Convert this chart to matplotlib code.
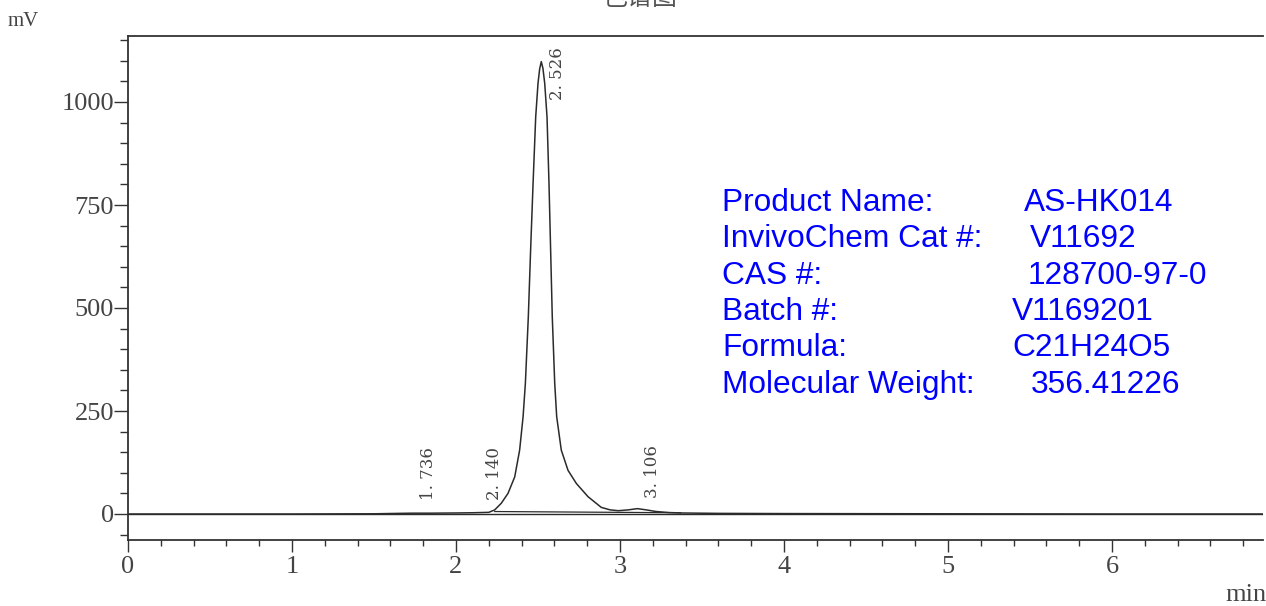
import numpy as np
import matplotlib
matplotlib.use("Agg")
import matplotlib.pyplot as plt
from matplotlib.ticker import MultipleLocator

# ---- data ----
time_min = [0.0, 1.0, 1.5, 1.65, 1.736, 1.85, 2.0, 2.1, 2.2, 2.236, 2.276,
            2.317, 2.358, 2.388, 2.409, 2.423, 2.441, 2.455, 2.470, 2.486,
            2.500, 2.510, 2.520, 2.530, 2.541, 2.555, 2.567, 2.577, 2.587,
            2.602, 2.614, 2.642, 2.683, 2.734, 2.805, 2.886, 2.94, 2.99,
            3.05, 3.106, 3.16, 3.22, 3.30, 3.37, 3.6, 4.0, 5.0, 6.0, 6.95]
signal_mv = [0.0, 0.0, 0.5, 1.5, 2.0, 2.0, 2.5, 3.0, 4.0, 10.0, 26.0,
             50.0, 90.0, 155.0, 236.0, 317.0, 479.0, 641.0, 803.0, 964.0,
             1045.0, 1080.0, 1098.0, 1082.0, 1045.0, 964.0, 803.0, 641.0, 479.0,
             317.0, 236.0, 155.0, 106.0, 74.0, 42.0, 16.0, 10.0, 8.0,
             10.0, 13.0, 10.0, 6.0, 3.5, 2.5, 1.5, 1.0, 0.5, 0.0, 0.0]

# integration baseline under the main peak
baseline_t = [2.236, 3.37]
baseline_mv = [6.0, 3.0]

peak_rt = [1.736, 2.140, 2.526, 3.106]
peak_text = ["1. 736", "2. 140", "2. 526", "3. 106"]

info_labels = ["Product Name:", "InvivoChem Cat #:", "CAS #:", "Batch #:",
               "Formula:", "Molecular Weight:"]
info_values = ["AS-HK014", "V11692", "128700-97-0", "V1169201",
               "C21H24O5", "356.41226"]

x_major = [0, 1, 2, 3, 4, 5, 6]
y_major = [0, 250, 500, 750, 1000]

# ---- layout / style (pixels of the 1266x606 canvas) ----
W, H = 1266, 606
label_y_mv = [35, 35, 1005, 38]
label_dx = 0.095
info_baselines = [211, 247, 284, 320, 356, 393]
info_label_x = 722
info_value_x = [1024, 1030, 1028, 1012, 1012, 1031]

fig = plt.figure(figsize=(W / 100, H / 100), dpi=100)
ax = fig.add_axes([128 / W, 1 - 540 / H, (1263 - 128) / W, (540 - 36) / H])

line_col = "#2b2b2b"
ax.plot(time_min, signal_mv, color=line_col, lw=1.1, zorder=3)
ax.plot(baseline_t, baseline_mv, color=line_col, lw=0.9, zorder=2)
ax.axhline(0, color=line_col, lw=1.0, zorder=1)

ax.set_xlim(0, (1263 - 128) / 164)
ax.set_ylim((514 - 540) / 0.412, (514 - 36) / 0.412)

ax.set_xticks(x_major)
ax.set_xticklabels([str(v) for v in x_major])
ax.set_yticks(y_major)
ax.set_yticklabels([str(v) for v in y_major])
ax.xaxis.set_minor_locator(MultipleLocator(0.2))
ax.yaxis.set_minor_locator(MultipleLocator(50))

for lab in ax.get_xticklabels() + ax.get_yticklabels():
    lab.set_fontfamily("Liberation Serif")
    lab.set_fontsize(19)
    lab.set_color("#444444")

ax.tick_params(axis="y", which="major", direction="out", length=10, width=1.0,
               pad=0, colors="#333333", labelcolor="#444444")
ax.tick_params(axis="y", which="minor", direction="out", length=5.8, width=1.0,
               colors="#333333")
ax.tick_params(axis="x", which="major", direction="out", length=8.5, width=1.0,
               pad=3, colors="#333333", labelcolor="#444444")
ax.tick_params(axis="x", which="minor", direction="out", length=4.5, width=1.0,
               colors="#333333")

ax.spines["right"].set_visible(False)
for s in ["left", "bottom", "top"]:
    ax.spines[s].set_color("#333333")
    ax.spines[s].set_linewidth(1.3)

for rt, txt, ly in zip(peak_rt, peak_text, label_y_mv):
    ax.text(rt + label_dx, ly, txt, rotation=90, ha="center", va="bottom",
            family="DejaVu Serif", fontsize=12, color="#444444")

# axis unit labels and title
fig.text(8 / W, 1 - 22 / H, "mV", ha="left", va="center",
         family="Liberation Serif", fontsize=15, color="#444444")
fig.text(1225 / W, 1 - 601 / H, "min", ha="left", va="baseline",
         family="Liberation Serif", fontsize=19, color="#444444")
fig.text(640 / W, 1 - 5 / H, "色谱图", ha="center", va="baseline",
         family=["Noto Sans CJK SC", "DejaVu Sans"], fontsize=18, color="#555555")

# product information block
for lab, val, yy, vx in zip(info_labels, info_values, info_baselines, info_value_x):
    fig.text(info_label_x / W, 1 - yy / H, lab, ha="left", va="baseline",
             family="Liberation Sans", fontsize=22.8, color="#0000FF")
    fig.text(vx / W, 1 - yy / H, val, ha="left", va="baseline",
             family="Liberation Sans", fontsize=22.8, color="#0000FF")

fig.savefig("out.png", dpi=100, facecolor="white")
